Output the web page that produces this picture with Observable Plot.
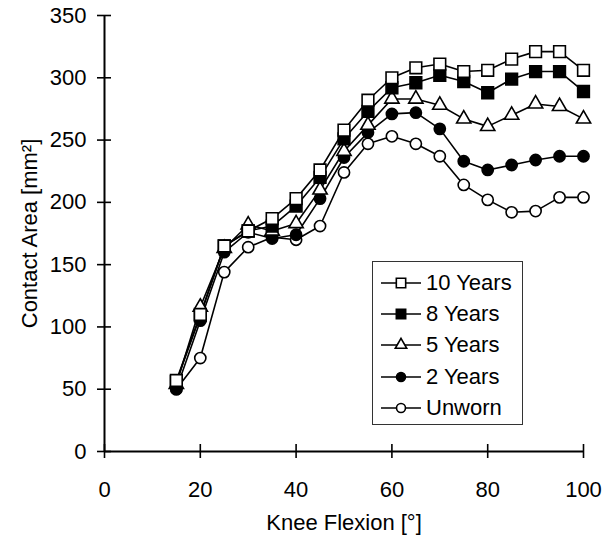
<!DOCTYPE html>
<html><head><meta charset="utf-8">
<script src="https://cdn.jsdelivr.net/npm/d3@7"></script>
<script src="https://cdn.jsdelivr.net/npm/@observablehq/plot@0.6"></script>
<style>
body{margin:0;background:#fff;font-family:"Liberation Sans",Arial,sans-serif}
#wrap{position:relative;width:602px;height:540px}
#legend{position:absolute;left:372px;top:261px;width:151px;height:164px;border:1px solid #333;background:#fff;box-sizing:border-box;padding-top:5px;font-size:22px;color:#000}
#legend .row{display:flex;align-items:center;height:31.3px}
#legend svg{margin-left:8px;margin-right:5px}
</style></head>
<body><div id="wrap"><div id="chart"></div><div id="legend"></div></div>
<script>
const flexion = [15,20,25,30,35,40,45,50,55,60,65,70,75,80,85,90,95,100];
const years10 = [57,110,165,177,187,203,226,258,282,300,308,311,305,306,315,321,321,306];
const years8  = [56,109,165,177,181,197,220,251,273,292,296,302,297,288,299,305,305,289];
const years5  = [54,116,163,182,177,183,210,241,262,283,283,278,267,261,270,279,277,267];
const years2  = [50,105,160,176,171,174,203,236,256,271,272,259,233,226,230,234,237,237];
const unworn  = [50,75,144,164,172,170,181,224,247,253,247,237,214,202,192,193,204,204];
const seriesNames = ["10 Years","8 Years","5 Years","2 Years","Unworn"];
const seriesValues = [years10, years8, years5, years2, unworn];
const xTicks = [0,20,40,60,80,100];
const yTicks = [0,50,100,150,200,250,300,350];

const styles = {
  "10 Years": {symbol:"square", fill:"white", r:6.6},
  "8 Years": {symbol:"square", fill:"black", r:6.6},
  "5 Years": {symbol:"triangle", fill:"white", r:5.3},
  "2 Years": {symbol:"circle", fill:"black", r:5.6},
  "Unworn": {symbol:"circle", fill:"white", r:5.6}
};

const rows = seriesNames.map((s,i)=>flexion.map((x,j)=>({s, x, y: seriesValues[i][j]})));

const marks = [
  Plot.ruleX([0], {stroke:"black", strokeWidth:2}),
  Plot.ruleY([0], {stroke:"black", strokeWidth:2}),
  Plot.axisY({ticks:yTicks, tickSize:14, dx:7, text:null, label:null, strokeWidth:1.6}),
  Plot.axisY({ticks:yTicks, tickSize:0, tickPadding:18, label:"Contact Area [mm²]", labelAnchor:"center", labelArrow:"none", labelOffset:83}),
  Plot.axisX({ticks:xTicks, tickSize:14, dy:-7, text:null, label:null, strokeWidth:1.6}),
  Plot.axisX({ticks:xTicks, tickSize:0, tickPadding:30, label:"Knee Flexion [°]", labelAnchor:"center", labelArrow:"none", labelOffset:78})
];
rows.slice().reverse().forEach(d=>{
  marks.push(Plot.line(d, {x:"x", y:"y", stroke:"black", strokeWidth:1.6}));
});
rows.slice().reverse().forEach(d=>{
  const st = styles[d[0].s];
  marks.push(Plot.dot(d, {x:"x", y:"y", symbol:()=>st.symbol, r:st.r, fill:st.fill, stroke:"black", strokeWidth:1.6}));
});

const chart = Plot.plot({
  width:602, height:540,
  marginLeft:104, marginRight:19, marginTop:15, marginBottom:89,
  x:{domain:[0,100]},
  y:{domain:[0,350]},
  symbol:{type:"identity"},
  style:{fontFamily:"'Liberation Sans', Arial, sans-serif", fontSize:"22px", color:"black", background:"white"},
  marks
});
document.getElementById("chart").appendChild(chart);

const legend = document.getElementById("legend");
seriesNames.forEach(s=>{
  const st = styles[s];
  const row = document.createElement("div");
  row.className = "row";
  const svg = d3.create("svg").attr("width",40).attr("height",20);
  svg.append("line").attr("x1",0).attr("x2",40).attr("y1",10).attr("y2",10).attr("stroke","black").attr("stroke-width",1.6);
  const sym = st.symbol==="square"?d3.symbolSquare:st.symbol==="triangle"?d3.symbolTriangle:d3.symbolCircle;
  const rr = st.r*0.8;
  svg.append("path").attr("transform","translate(20,10)").attr("d", d3.symbol(sym, Math.PI*rr*rr)())
    .attr("fill", st.fill).attr("stroke","black").attr("stroke-width",1.6);
  row.appendChild(svg.node());
  const t = document.createElement("span");
  t.textContent = s;
  row.appendChild(t);
  legend.appendChild(row);
});
</script></body></html>
